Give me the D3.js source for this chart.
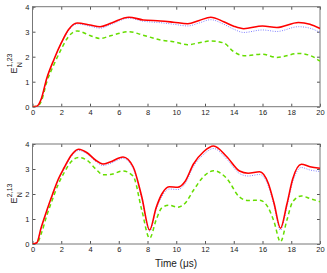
<!DOCTYPE html>
<html><head><meta charset="utf-8">
<script src="https://cdn.jsdelivr.net/npm/d3@7"></script>
<style>body{margin:0;background:#fff}svg{display:block;font-family:"Liberation Sans",Arial,sans-serif}</style>
</head><body><svg id="c" width="327" height="273"></svg>
<script>
const xTicks=[0,2,4,6,8,10,12,14,16,18,20];
const yTicks=[0,1,2,3,4];
const tTop=[0,0.3,0.6,1,1.5,2,2.5,3.1,4,4.7,5.5,6.7,7.7,8.9,9.8,10.8,11.6,12.4,13.3,14,14.7,16,17,18.5,19.3,20];
const redTop=[0,0.02,0.3,1.15,1.9,2.55,3.08,3.35,3.27,3.2,3.35,3.58,3.47,3.43,3.38,3.32,3.45,3.58,3.4,3.22,3.12,3.23,3.17,3.37,3.3,3.13];
const blueTop=[0,0.02,0.29,1.13,1.88,2.52,3.04,3.31,3.22,3.14,3.3,3.54,3.42,3.36,3.3,3.23,3.35,3.48,3.3,3.1,2.97,3.07,3.01,3.2,3.14,2.97];
const greenTop=[0,0.01,0.2,1.0,1.7,2.3,2.8,3.03,2.85,2.73,2.85,3.0,2.86,2.67,2.6,2.48,2.56,2.63,2.55,2.2,2.04,2.1,1.97,2.13,2.05,1.82];
const tBot=[0,0.3,0.6,1,1.4,1.8,2.2,2.7,3.2,3.8,4.4,4.9,5.4,6.3,7.0,7.6,8.15,8.6,9.0,9.5,10.1,10.6,11.2,11.9,12.6,13.5,14.4,15.0,15.8,16.4,16.8,17.25,17.7,18.1,18.7,19.3,20];
const redBot=[0,0.05,0.65,1.35,2.0,2.6,3.05,3.55,3.79,3.65,3.35,3.2,3.28,3.48,3.09,1.89,0.56,1.45,2.0,2.29,2.27,2.49,3.2,3.69,3.92,3.5,2.92,2.83,2.89,2.43,1.64,0.63,1.6,2.6,3.19,3.09,3.03];
const blueBot=[0,0.05,0.63,1.33,1.97,2.56,3.0,3.5,3.74,3.6,3.3,3.14,3.22,3.42,3.02,1.82,0.5,1.38,1.9,2.2,2.18,2.4,3.1,3.58,3.82,3.4,2.82,2.72,2.78,2.33,1.55,0.55,1.5,2.48,3.06,2.96,2.9];
const greenBot=[0,0.02,0.4,1.15,1.8,2.4,2.85,3.3,3.46,3.35,3.0,2.77,2.78,2.92,2.72,1.36,0.23,0.96,1.45,1.55,1.47,1.62,2.15,2.7,2.93,2.63,1.88,1.74,1.75,1.45,0.9,0.09,0.96,1.69,1.92,1.82,1.69];

const svg=d3.select("#c");
const L=32.5,R=320;
const x=d3.scaleLinear().domain([0,20]).range([L,R]);
const panels=[
 {top:6.7,bot:106.7,t:tTop,series:[greenTop,blueTop,redTop],sup:"1,23",labelY:73.5},
 {top:144,bot:244,t:tBot,series:[greenBot,blueBot,redBot],sup:"2,13",labelY:203.5}
];
const styles=[
 {color:"#66dd00",w:1.5,dash:"4,3"},
 {color:"#8080ff",w:1,dash:"1,1.4"},
 {color:"#ff0000",w:1.6,dash:null}
];
panels.forEach((p,i)=>{
  const y=d3.scaleLinear().domain([0,4]).range([p.bot,p.top]);
  const g=svg.append("g");
  g.append("clipPath").attr("id","cp"+i).append("rect").attr("x",L).attr("y",p.top).attr("width",R-L).attr("height",p.bot-p.top);
  const tk=3;
  const ax=g.append("g").attr("transform",`translate(0,${p.bot})`).call(d3.axisBottom(x).tickValues(xTicks).tickSize(-tk).tickPadding(3).tickFormat(d3.format("d")));
  const axT=g.append("g").attr("transform",`translate(0,${p.top})`).call(d3.axisTop(x).tickValues(xTicks).tickSize(-tk).tickFormat(""));
  const ay=g.append("g").attr("transform",`translate(${L},0)`).call(d3.axisLeft(y).tickValues(yTicks).tickSize(-tk).tickPadding(3).tickFormat(d3.format("d")));
  const ayR=g.append("g").attr("transform",`translate(${R},0)`).call(d3.axisRight(y).tickValues(yTicks).tickSize(-tk).tickFormat(""));
  [ax,axT,ay,ayR].forEach(a=>{a.select(".domain").remove();a.selectAll("line").attr("stroke","#555");a.selectAll("text").attr("font-size",7.5).attr("fill","#222").attr("font-family","Liberation Sans, Arial, sans-serif");});
  ax.selectAll("text").attr("dy","0.71em");
  g.append("rect").attr("x",L).attr("y",p.top).attr("width",R-L).attr("height",p.bot-p.top).attr("fill","none").attr("stroke","#777").attr("stroke-width",1);
  const line=d3.line().x((d,j)=>x(p.t[j])).y(d=>y(d)).curve(d3.curveMonotoneX);
  p.series.forEach((s,k)=>{
    const st=styles[k];
    g.append("path").attr("clip-path",`url(#cp${i})`).attr("d",line(s)).attr("fill","none").attr("stroke",st.color).attr("stroke-width",st.w).attr("stroke-dasharray",st.dash);
  });
  const lg=svg.append("g").attr("transform",`translate(16.5,${p.labelY}) rotate(-90)`);
  const E=lg.append("text").attr("x",0).attr("y",0).attr("font-size",9).attr("fill","#222").text("E");
  const ew=E.node().getComputedTextLength();
  lg.append("text").attr("x",ew+0.3).attr("y",-4.6).attr("font-size",7).attr("fill","#222").text(p.sup);
  lg.append("text").attr("x",ew+0.3).attr("y",5.5).attr("font-size",7).attr("fill","#222").text("N");
});
svg.append("text").attr("x",176).attr("y",267).attr("text-anchor","middle").attr("font-size",10).attr("fill","#222").text("Time (μs)");
</script></body></html>
